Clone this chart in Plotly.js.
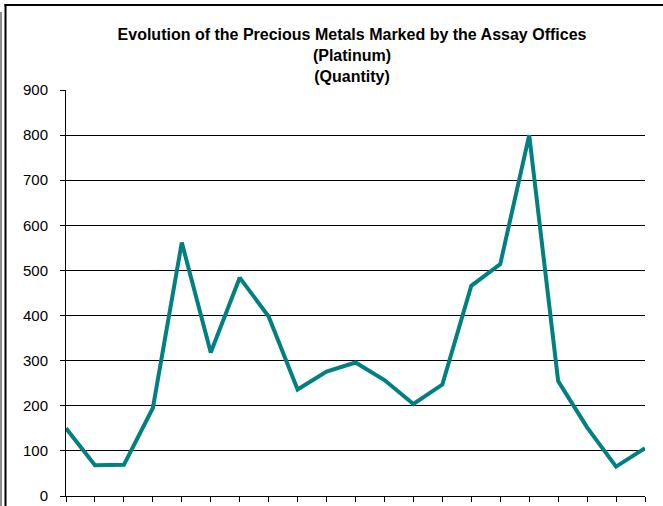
<!DOCTYPE html>
<html>
<head>
<meta charset="utf-8">
<script src="https://cdn.plot.ly/plotly-3.0.1.min.js"></script>
<style>
html,body{margin:0;padding:0;background:#fff;}
#chart{width:663px;height:506px;}
</style>
</head>
<body>
<div id="chart"></div>
<script>
// Category labels (hidden below the visible area in the reference)
const categories = ["1","2","3","4","5","6","7","8","9","10","11","12","13","14","15","16","17","18","19","20","21"];
// Platinum quantity marked by the Assay Offices
const platinum = [150, 68, 69, 195, 562, 318, 484, 398, 236, 276, 296, 257, 204, 247, 466, 514, 800, 255, 152, 65, 106];
const yTicks = [0,100,200,300,400,500,600,700,800,900];

const L = 66, R = 645, T = 90, B = 496, W = 663, H = 506;
const px = v => (v - L) / (R - L);
const py = v => (B - v) / (B - T);

const trace = {
  x: categories,
  y: platinum,
  type: 'scatter',
  mode: 'lines',
  line: {color: '#008080', width: 4},
  hoverinfo: 'x+y'
};

const layout = {
  width: W, height: H,
  margin: {l: L, r: W - R, t: T, b: H - B, pad: 0},
  paper_bgcolor: '#ffffff',
  plot_bgcolor: '#ffffff',
  showlegend: false,
  font: {family: 'Liberation Sans, Arial, sans-serif', color: '#000', size: 15},
  title: {
    text: '<b>Evolution of the Precious Metals Marked by the Assay Offices</b><br><b>(Platinum)</b><br><b>(Quantity)</b>',
    font: {family: 'Liberation Sans, Arial, sans-serif', size: 16, color: '#000'},
    x: 352 / W, xanchor: 'center', xref: 'container',
    y: 1 - 40 / H, yanchor: 'top', yref: 'container'
  },
  xaxis: {
    type: 'category',
    range: [0, categories.length - 1],
    showgrid: false,
    zeroline: false,
    showline: true, linecolor: '#000', linewidth: 1,
    ticks: 'outside', ticklen: 5, tickcolor: '#000', tickwidth: 1,
    showticklabels: false,
    fixedrange: true
  },
  yaxis: {
    range: [0, 900],
    tickmode: 'array', tickvals: yTicks, ticktext: yTicks.map(String),
    showgrid: true, gridcolor: '#000', gridwidth: 1,
    zeroline: false,
    showline: true, linecolor: '#000', linewidth: 1,
    ticks: 'outside', ticklen: 5, tickcolor: '#000', tickwidth: 1,
    ticklabelstandoff: 9,
    tickfont: {family: 'Liberation Sans, Arial, sans-serif', size: 15, color: '#000'},
    fixedrange: true
  },
  shapes: [
    // chart-area border (left and top)
    {type: 'line', xref: 'paper', yref: 'paper', x0: px(5.5), x1: px(5.5), y0: py(4), y1: py(520), line: {color: '#000', width: 2}},
    {type: 'line', xref: 'paper', yref: 'paper', x0: px(4.5), x1: px(670), y0: py(5), y1: py(5), line: {color: '#000', width: 2}},
    // outer gray edge
    {type: 'line', xref: 'paper', yref: 'paper', x0: px(1), x1: px(1), y0: py(12), y1: py(520), line: {color: '#8c8c8c', width: 2}}
  ]
};

Plotly.newPlot('chart', [trace], layout, {displayModeBar: false, staticPlot: true});
</script>
</body>
</html>
